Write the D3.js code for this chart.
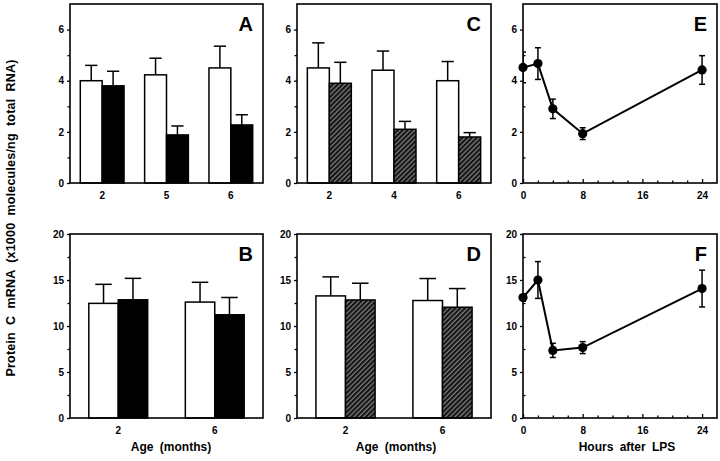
<!DOCTYPE html>
<html><head><meta charset="utf-8">
<script src="https://cdn.jsdelivr.net/npm/d3@7"></script>
<style>
body{margin:0;background:#fff;}
text{font-family:"Liberation Sans",Arial,sans-serif;font-weight:bold;fill:#000;}
</style></head>
<body><svg id="c" width="720" height="461"></svg>
<script>
// ---- data ----
const ageA = ["2","5","6"];
const ctrlA = [4.0, 4.23, 4.5];
const ctrlAErr = [0.6, 0.65, 0.85];
const defA = [3.8, 1.88, 2.27];
const defAErr = [0.57, 0.35, 0.4];

const ageC = ["2","4","6"];
const ctrlC = [4.5, 4.41, 4.0];
const ctrlCErr = [0.98, 0.75, 0.75];
const defC = [3.9, 2.1, 1.8];
const defCErr = [0.82, 0.31, 0.17];

const ageB = ["2","6"];
const ctrlB = [12.46, 12.6];
const ctrlBErr = [2.07, 2.15];
const defB = [12.85, 11.22];
const defBErr = [2.33, 1.88];

const ageD = ["2","6"];
const ctrlD = [13.27, 12.77];
const ctrlDErr = [2.07, 2.39];
const defD = [12.83, 12.04];
const defDErr = [1.82, 2.03];

const hours = [0, 2, 4, 8, 24];
const valE = [4.52, 4.67, 2.9, 1.93, 4.42];
const errE = [0.6, 0.62, 0.38, 0.23, 0.56];
const valF = [13.1, 15.0, 7.35, 7.65, 14.07];
const errF = [0.4, 2.0, 0.77, 0.65, 2.0];

const yTicksTop = [0, 2, 4, 6];
const yMinorTop = [1, 3, 5];
const yTicksBot = [0, 5, 10, 15, 20];
const yMinorBot = [2.5, 7.5, 12.5, 17.5];
const xTicksHours = [0, 8, 16, 24];
const xMinorHours = [2, 4, 6, 10, 12, 14, 18, 20, 22];

// ---- layout ----
const svg = d3.select("#c");
const cols = [[70, 263], [297, 491], [523, 717]];
const rows = [[4, 183], [234, 418]];

const defs = svg.append("defs");
const pat = defs.append("pattern").attr("id", "hatch").attr("patternUnits", "userSpaceOnUse")
  .attr("width", 3.4).attr("height", 3.4).attr("patternTransform", "rotate(45)");
pat.append("rect").attr("width", 3.4).attr("height", 3.4).attr("fill", "#141414");
pat.append("line").attr("x1", 1).attr("y1", 0).attr("x2", 1).attr("y2", 3.4)
  .attr("stroke", "#a8a8a8").attr("stroke-width", 0.9);

function frame(c, r) {
  svg.append("rect").attr("x", c[0]).attr("y", r[0]).attr("width", c[1] - c[0]).attr("height", r[1] - r[0])
    .attr("fill", "none").attr("stroke", "#000").attr("stroke-width", 1.6);
}

function yAxis(c, y, major, minor, minorInward) {
  const g = svg.append("g").attr("transform", `translate(${c[0]},0)`)
    .call(d3.axisLeft(y).tickValues(major).tickSize(3).tickPadding(3).tickFormat(d3.format("d")));
  g.select(".domain").remove();
  g.selectAll("text").attr("font-size", 10).style("font-weight", "bold");
  g.selectAll("line").attr("stroke-width", 1.3);
  const m = svg.append("g").attr("transform", `translate(${c[0]},0)`)
    .call(d3.axisLeft(y).tickValues(minor).tickSize(minorInward ? -2.5 : 2.5).tickFormat(""));
  m.select(".domain").remove();
  m.selectAll("line").attr("stroke-width", 1.3);
}

function letter(c, r, t) {
  svg.append("text").attr("x", c[1] - 10).attr("y", r[0] + 27).attr("text-anchor", "end")
    .attr("font-size", 20).text(t);
}

function barPanel(c, r, cats, v1, e1, v2, e2, dom, major, minor, fill2, pad, lab) {
  const x = d3.scaleBand().domain(cats).range(c).paddingInner(pad).paddingOuter(pad / 2);
  const xi = d3.scaleBand().domain(["ctrl", "trt"]).range([0, x.bandwidth()]);
  const y = d3.scaleLinear().domain(dom).range([r[1], r[0]]);
  const series = [{k: "ctrl", v: v1, e: e1, fill: "#fff"}, {k: "trt", v: v2, e: e2, fill: fill2}];
  const bw = xi.bandwidth();
  series.forEach(s => {
    cats.forEach((cat, i) => {
      const x0 = x(cat) + xi(s.k);
      const cx = x0 + bw / 2;
      const top = y(s.v[i] + s.e[i]);
      svg.append("line").attr("x1", cx).attr("x2", cx).attr("y1", y(s.v[i])).attr("y2", top)
        .attr("stroke", "#000").attr("stroke-width", 1.5);
      svg.append("line").attr("x1", cx - bw * 0.28).attr("x2", cx + bw * 0.28).attr("y1", top).attr("y2", top)
        .attr("stroke", "#000").attr("stroke-width", 1.5);
      svg.append("rect").attr("x", x0).attr("y", y(s.v[i])).attr("width", bw).attr("height", y(0) - y(s.v[i]))
        .attr("fill", s.fill).attr("stroke", "#000").attr("stroke-width", 1.5);
    });
  });
  yAxis(c, y, major, minor, false);
  const gx = svg.append("g").attr("transform", `translate(0,${r[1]})`)
    .call(d3.axisBottom(x).tickSize(0).tickPadding(9));
  gx.select(".domain").remove();
  gx.selectAll("text").attr("font-size", 10).style("font-weight", "bold");
  frame(c, r);
  letter(c, r, lab);
}

function linePanel(c, r, xs, vals, errs, dom, major, minor, lab) {
  const x = d3.scaleLinear().domain([0, 26]).range(c);
  const y = d3.scaleLinear().domain(dom).range([r[1], r[0]]);
  const pts = xs.map((h, i) => ({h, v: vals[i], e: errs[i]}));
  svg.append("clipPath").attr("id", "clip" + lab).append("rect")
    .attr("x", c[0]).attr("y", r[0]).attr("width", c[1] - c[0]).attr("height", r[1] - r[0]);
  const g = svg.append("g").attr("clip-path", `url(#clip${lab})`);
  g.append("path").datum(pts).attr("d", d3.line().x(d => x(d.h)).y(d => y(d.v)))
    .attr("fill", "none").attr("stroke", "#000").attr("stroke-width", 2);
  pts.forEach(d => {
    g.append("line").attr("x1", x(d.h)).attr("x2", x(d.h)).attr("y1", y(d.v - d.e)).attr("y2", y(d.v + d.e))
      .attr("stroke", "#000").attr("stroke-width", 1.5);
    [d.v - d.e, d.v + d.e].forEach(t => g.append("line").attr("x1", x(d.h) - 3).attr("x2", x(d.h) + 3)
      .attr("y1", y(t)).attr("y2", y(t)).attr("stroke", "#000").attr("stroke-width", 1.5));
    svg.append("circle").attr("cx", x(d.h)).attr("cy", y(d.v)).attr("r", 4.6).attr("fill", "#000");
  });
  yAxis(c, y, major, minor, true);
  const gx = svg.append("g").attr("transform", `translate(0,${r[1]})`)
    .call(d3.axisBottom(x).tickValues(xTicksHours).tickSize(-4).tickPadding(9).tickFormat(d3.format("d")));
  gx.select(".domain").remove();
  gx.selectAll("text").attr("font-size", 10).style("font-weight", "bold");
  gx.selectAll("line").attr("stroke-width", 1.3);
  const gm = svg.append("g").attr("transform", `translate(0,${r[1]})`)
    .call(d3.axisBottom(x).tickValues(xMinorHours).tickSize(-2.5).tickFormat(""));
  gm.select(".domain").remove();
  gm.selectAll("line").attr("stroke-width", 1.3);
  frame(c, r);
  letter(c, r, lab);
}

barPanel(cols[0], rows[0], ageA, ctrlA, ctrlAErr, defA, defAErr, [0, 7], yTicksTop, yMinorTop, "#000", 0.32, "A");
barPanel(cols[1], rows[0], ageC, ctrlC, ctrlCErr, defC, defCErr, [0, 7], yTicksTop, yMinorTop, "url(#hatch)", 0.32, "C");
linePanel(cols[2], rows[0], hours, valE, errE, [0, 7], yTicksTop, yMinorTop, "E");
barPanel(cols[0], rows[1], ageB, ctrlB, ctrlBErr, defB, defBErr, [0, 20], yTicksBot, yMinorBot, "#000", 0.39, "B");
barPanel(cols[1], rows[1], ageD, ctrlD, ctrlDErr, defD, defDErr, [0, 20], yTicksBot, yMinorBot, "url(#hatch)", 0.39, "D");
linePanel(cols[2], rows[1], hours, valF, errF, [0, 20], yTicksBot, yMinorBot, "F");

// axis titles
svg.append("text").attr("x", 171).attr("y", 451).attr("text-anchor", "middle").attr("font-size", 12)
  .attr("word-spacing", 3).text("Age (months)");
svg.append("text").attr("x", 396).attr("y", 451).attr("text-anchor", "middle").attr("font-size", 12)
  .attr("word-spacing", 3).text("Age (months)");
svg.append("text").attr("x", 627).attr("y", 451).attr("text-anchor", "middle").attr("font-size", 12)
  .attr("word-spacing", 3).text("Hours after LPS");
svg.append("text").attr("transform", "translate(15,218) rotate(-90)").attr("text-anchor", "middle")
  .attr("font-size", 12.5).attr("word-spacing", 3.5).attr("letter-spacing", 0.2)
  .text("Protein C mRNA (x1000 molecules/ng total RNA)");
</script></body></html>
